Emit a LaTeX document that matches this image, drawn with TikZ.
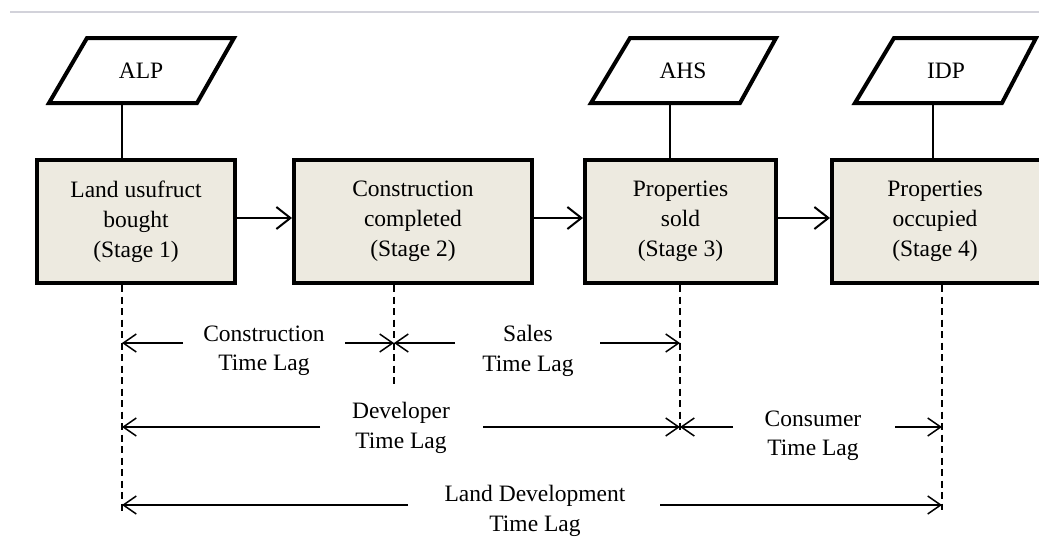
\documentclass[tikz,border=0pt]{standalone}
\usepackage{fontspec}
\setmainfont{Liberation Serif}
\usetikzlibrary{arrows.meta}
\definecolor{boxfill}{RGB}{237,234,224}
\definecolor{rulegray}{RGB}{210,210,218}
\begin{document}
\begin{tikzpicture}[x=1pt,y=-1pt,
  txt/.style={font=\fontsize{23.5}{30}\selectfont, align=center, inner sep=0pt},
  lbl/.style={font=\fontsize{23.5}{29.5}\selectfont, align=center, inner sep=0pt},
  stagebox/.style={draw, line width=4pt, fill=boxfill, minimum height=123pt, inner sep=0pt, txt},
  para/.style={draw, line width=4pt, line join=miter, fill=white},
  conn/.style={line width=2.5pt},
  flow/.style={line width=2pt, -{Straight Barb[length=14pt,width=22pt]}},
  dim/.style={line width=1.5pt, -{Straight Barb[length=13pt,width=18pt]}},
  guide/.style={line width=1.5pt, dash pattern=on 7pt off 4.5pt}]
\path[use as bounding box] (0,0) rectangle (1039,541);
\clip (0,0) rectangle (1039,541);

% top rule
\coordinate (r1) at (10,12);
\coordinate (r2) at (1039,12);
\draw[rulegray, line width=2pt] (r1) -- (r2);

% parallelograms
\draw[para] (87,38) -- (234,38) -- (197,103) -- (49,103) -- cycle;
\node[txt] (alp) at (141,71) {ALP};
\draw[para] (630,38) -- (776,38) -- (740,103) -- (591,103) -- cycle;
\node[txt] (ahs) at (683,71) {AHS};
\draw[para] (894,38) -- (1036,38) -- (1002,103) -- (855,103) -- cycle;
\node[txt] (idp) at (946,71) {IDP};

% stage boxes
\node[stagebox, minimum width=198pt] (s1) at (136,221.5) {Land usufruct\\bought\\(Stage 1)};
\node[stagebox, minimum width=238pt] (s2) at (413,221.5) {Construction\\completed\\(Stage 2)};
\node[stagebox, minimum width=191pt] (s3) at (680.5,221.5) {Properties\\sold\\(Stage 3)};
\node[stagebox, minimum width=220pt] (s4) at (942,221.5) {};
\node[txt] (t4) at (935,221.5) {Properties\\occupied\\(Stage 4)};

% connectors from parallelograms
\coordinate (alpb) at (122,103);
\coordinate (ahsb) at (670,103);
\coordinate (idpb) at (933,103);
\draw[conn] (alpb) -- (s1.north -| alpb);
\draw[conn] (ahsb) -- (s3.north -| ahsb);
\draw[conn] (idpb) -- (s4.north -| idpb);

% flow arrows
\coordinate (ay) at (0,218);
\draw[flow] (s1.east |- ay) -- (s2.west |- ay);
\draw[flow] (s2.east |- ay) -- (s3.west |- ay);
\draw[flow] (s3.east |- ay) -- (s4.west |- ay);

% dashed guides
\coordinate (g1t) at (122,285); \coordinate (g1b) at (122,512);
\coordinate (g2t) at (394,285); \coordinate (g2b) at (394,386);
\coordinate (g3t) at (680,285); \coordinate (g3b) at (680,432);
\coordinate (g4t) at (942,285); \coordinate (g4b) at (942,510);
\draw[guide] (g1t) -- (g1b);
\draw[guide] (g2t) -- (g2b);
\draw[guide] (g3t) -- (g3b);
\draw[guide] (g4t) -- (g4b);

% labels
\node[lbl] (cl) at (264,351) {Construction\\Time Lag};
\node[lbl] (sl) at (528,351) {Sales\\Time Lag};
\node[lbl] (dl) at (401,428) {Developer\\Time Lag};
\node[lbl] (ul) at (813,436) {Consumer\\Time Lag};
\node[lbl] (ll) at (535,511) {Land Development\\Time Lag};

% dimension arrows
\coordinate (c1) at (183,343); \coordinate (c2) at (345,343);
\coordinate (s1a) at (455,343); \coordinate (s2a) at (600,343);
\coordinate (d1) at (320,427); \coordinate (d2) at (483,427);
\coordinate (u1) at (733,427); \coordinate (u2) at (895,427);
\coordinate (l1) at (408,505); \coordinate (l2) at (660,505);

\draw[dim] (c1) -- (g1t |- c1);
\draw[dim] (c2) -- (g2t |- c2);
\draw[dim] (s1a) -- (g2t |- s1a);
\draw[dim] (s2a) -- (g3t |- s2a);
\draw[dim] (d1) -- (g1t |- d1);
\draw[dim] (d2) -- (g3t |- d2);
\draw[dim] (u1) -- (g3t |- u1);
\draw[dim] (u2) -- (g4t |- u2);
\draw[dim] (l1) -- (g1t |- l1);
\draw[dim] (l2) -- (g4t |- l2);
\end{tikzpicture}
\end{document}
